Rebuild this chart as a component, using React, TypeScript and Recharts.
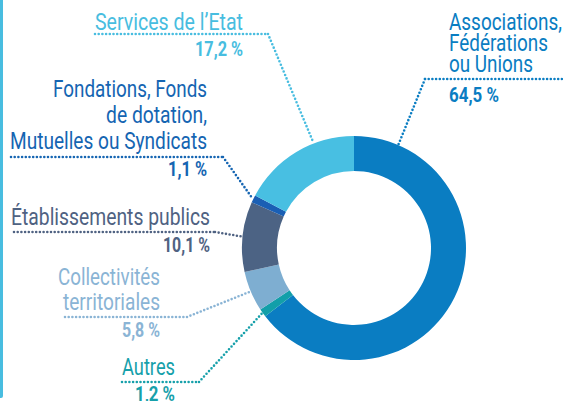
import React from "react";
import { PieChart, Pie, Cell } from "recharts";

const names = [
  "Associations, Fédérations ou Unions",
  "Autres",
  "Collectivités territoriales",
  "Établissements publics",
  "Fondations, Fonds de dotation, Mutuelles ou Syndicats",
  "Services de l’Etat",
];
const nameLines = [
  ["Associations,", "Fédérations", "ou Unions"],
  ["Autres"],
  ["Collectivités", "territoriales"],
  ["Établissements publics"],
  ["Fondations, Fonds", "de dotation,", "Mutuelles ou Syndicats"],
  ["Services de l’Etat"],
];
const shares = [64.5, 1.2, 5.8, 10.1, 1.1, 17.2];
const shareLabels = ["64,5 %", "1,2 %", "5,8 %", "10,1 %", "1,1 %", "17,2 %"];

const sliceColors = ["#0a7dc2", "#129fa9", "#7eaed1", "#4c6384", "#1a5fb4", "#48bfe2"];
const textColors = ["#0a7dc2", "#16a0aa", "#8ab4d5", "#4f6282", "#1565b2", "#48bde0"];

// label placement: text block, dotted rule, elbow, where along the slice the leader lands,
// and the widths the condensed face takes in the original
type LabelLayout = {
  x: number;
  y: number;
  lh: number;
  anchor: "start" | "end";
  ruleY: number;
  ruleFrom: number;
  ruleTo: number;
  elbow: number;
  valueY: number;
  t: number;
  widths: number[];
  valueWidth: number;
};
const layouts: LabelLayout[] = [
  { x: 449, y: 30, lh: 21, anchor: "start", ruleY: 79, ruleFrom: 425, ruleTo: 563, elbow: 425, valueY: 102, t: 0.1, widths: [113, 99, 84], valueWidth: 50 },
  { x: 175, y: 375, lh: 24, anchor: "end", ruleY: 382, ruleFrom: 122, ruleTo: 199, elbow: 199, valueY: 401, t: 0.5, widths: [53], valueWidth: 40 },
  { x: 160, y: 285, lh: 25, anchor: "end", ruleY: 317, ruleFrom: 65, ruleTo: 187, elbow: 187, valueY: 337, t: 0.5, widths: [102, 97], valueWidth: 38 },
  { x: 210, y: 225, lh: 24, anchor: "end", ruleY: 232, ruleFrom: 14, ruleTo: 215, elbow: 215, valueY: 252, t: 0.5, widths: [199], valueWidth: 47 },
  { x: 207, y: 97, lh: 26, anchor: "end", ruleY: 157, ruleFrom: 11, ruleTo: 223, elbow: 223, valueY: 176, t: 0.5, widths: [154, 101, 197], valueWidth: 39 },
  { x: 243, y: 30, lh: 24, anchor: "end", ruleY: 34, ruleFrom: 95, ruleTo: 268, elbow: 268, valueY: 56, t: 0.66, widths: [148], valueWidth: 48 },
];

const data = names.map((name, i) => ({ name, value: shares[i] }));

const FONT = "'Roboto', 'Liberation Sans', sans-serif";
const RAD = Math.PI / 180;

function renderLabel(props: any) {
  const { cx, cy, outerRadius, startAngle, endAngle, index } = props;
  const l = layouts[index];
  const color = textColors[index];
  const ang = startAngle + l.t * (endAngle - startAngle);
  const r = outerRadius + 1;
  const ax = cx + r * Math.cos(ang * RAD);
  const ay = cy - r * Math.sin(ang * RAD);
  const dots = {
    stroke: color,
    strokeWidth: 2.6,
    strokeLinecap: "round" as const,
    strokeDasharray: "0 3.7",
    fill: "none",
  };
  return (
    <g key={`lbl-${index}`}>
      <path d={`M${l.ruleFrom},${l.ruleY}H${l.ruleTo}`} {...dots} />
      <path d={`M${l.elbow},${l.ruleY}L${ax},${ay}`} {...dots} />
      {nameLines[index].map((line, k) => (
        <text
          key={k}
          x={l.x}
          y={l.y + k * l.lh}
          fill={color}
          fontFamily={FONT}
          fontSize={24}
          textAnchor={l.anchor}
          textLength={l.widths[k]}
          lengthAdjust="spacingAndGlyphs"
        >
          {line}
        </text>
      ))}
      <text
        x={l.x}
        y={l.valueY}
        fill={color}
        fontFamily={FONT}
        fontSize={20}
        fontWeight="bold"
        textAnchor={l.anchor}
        textLength={l.valueWidth}
        lengthAdjust="spacingAndGlyphs"
      >
        {shareLabels[index]}
      </text>
    </g>
  );
}

export default function App() {
  return (
    <div style={{ position: "relative", width: 563, height: 401, background: "#fff" }}>
      <style>{`body{margin:0}`}</style>
      <div
        style={{
          position: "absolute",
          left: 0,
          top: 0,
          width: 3,
          height: 398,
          background: "#48bde0",
          borderBottomRightRadius: 2,
        }}
      />
      <PieChart width={563} height={401} style={{ position: "absolute", left: 0, top: 0 }}>
        <Pie
          data={data}
          dataKey="value"
          nameKey="name"
          cx={349}
          cy={243}
          innerRadius={77}
          outerRadius={112}
          startAngle={90}
          endAngle={-270}
          stroke="none"
          label={renderLabel}
          labelLine={false}
          isAnimationActive={false}
        >
          {data.map((d, i) => (
            <Cell key={d.name} fill={sliceColors[i]} />
          ))}
        </Pie>
      </PieChart>
    </div>
  );
}
